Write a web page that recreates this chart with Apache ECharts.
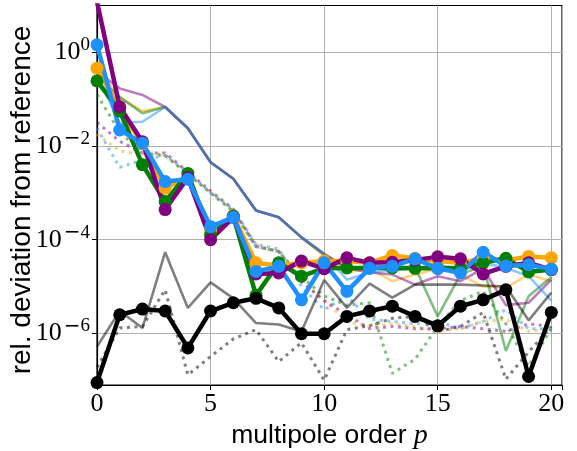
<!DOCTYPE html>
<html><head><meta charset="utf-8">
<script src="https://cdn.jsdelivr.net/npm/echarts@6/dist/echarts.min.js"></script>
<style>html,body{margin:0;padding:0;background:#fff}#c{width:577px;height:451px}</style>
</head><body><div id="c"></div>
<script>
const orders = [0,1,2,3,4,5,6,7,8,9,10,11,12,13,14,15,16,17,18,19,20];
const xTicks = [0,5,10,15,20];
const yTicks = [1e-6,1e-4,1e-2,1];
const yTitle = 'rel. deviation from reference';

// thick lines with markers
const orangeThick = [0.46,0.063,0.0112,1.26e-3,2.2e-3,1.6e-4,3.2e-4,3.2e-5,2.8e-5,3.2e-5,3.5e-5,3.5e-5,3.2e-5,4.6e-5,4.0e-5,3.5e-5,3.2e-5,4.0e-5,3.6e-5,4.4e-5,4.1e-5];
const greenThick  = [0.245,0.056,4.0e-3,6.5e-4,2.6e-3,1.26e-4,3.2e-4,6.5e-6,3.2e-5,1.66e-5,2.45e-5,2.5e-5,2.5e-5,2.5e-5,2.45e-5,2.45e-5,2.45e-5,3.2e-5,4.0e-5,2.05e-5,2.3e-5];
const purpleThick = [12,0.069,0.0123,4.4e-4,2.1e-3,1.0e-4,3.0e-4,1.86e-5,1.95e-5,3.5e-5,2.4e-5,4.1e-5,3.2e-5,3.3e-5,3.7e-5,4.3e-5,3.9e-5,1.86e-5,2.7e-5,3.2e-5,2.3e-5];
const blueThick   = [1.45,0.022,0.0115,1.74e-3,1.95e-3,1.9e-4,3.0e-4,2.1e-5,2.7e-5,5.2e-6,3.2e-5,7.9e-6,2.45e-5,2.7e-5,3.9e-5,2.45e-5,1.95e-5,5.4e-5,2.75e-5,2.9e-5,2.35e-5];
const blackThick  = [8.9e-8,2.5e-6,3.3e-6,3.0e-6,4.9e-7,3.0e-6,4.5e-6,5.6e-6,3.5e-6,9.8e-7,9.8e-7,2.3e-6,3.0e-6,3.8e-6,2.3e-6,1.45e-6,3.8e-6,5.2e-6,8.5e-6,1.2e-7,2.8e-6];

// thin solid (semi-transparent)
const orangeThin = [0.49,0.105,0.056,0.068,0.024,4.5e-3,2.0e-3,4.2e-4,3.0e-4,1.12e-4,4.5e-5,2.0e-5,2.4e-5,1.3e-5,1.8e-5,2.4e-5,1.8e-5,1.0e-5,9.5e-6,1.8e-5,1.3e-5];
const greenThin  = [0.30,0.112,0.050,0.068,0.024,4.5e-3,2.0e-3,4.2e-4,3.0e-4,1.12e-4,4.8e-5,2.5e-5,2.4e-5,2.6e-5,2.6e-5,2.3e-6,1.8e-5,2.8e-5,4.2e-7,6.2e-6,1.6e-5];
const purpleThin = [0.39,0.17,0.123,0.068,0.024,4.5e-3,2.0e-3,4.2e-4,3.0e-4,1.12e-4,5.0e-5,2.5e-5,2.0e-5,1.8e-5,1.1e-5,1.66e-5,1.3e-5,2.4e-5,4.0e-6,4.5e-6,1.4e-5];
const blueThin   = [0.32,0.031,0.033,0.068,0.024,4.5e-3,2.0e-3,4.2e-4,3.0e-4,1.12e-4,5.0e-5,1.4e-5,2.0e-5,2.2e-5,2.5e-5,2.8e-5,2.5e-5,3.2e-5,2.5e-5,1.66e-5,5.0e-6];
const grayThin   = [5.2e-7,3.0e-6,1.3e-6,5.4e-5,3.5e-6,1.23e-5,5.6e-6,1.66e-6,1.55e-6,1.1e-6,1.38e-5,3.5e-6,1.15e-5,5.8e-6,1.1e-5,1.1e-5,1.1e-5,1.05e-5,1.0e-5,1.9e-6,7.4e-6];

// dotted (semi-transparent)
const orangeDot = [0.0178,7.9e-3,6.3e-3,6.3e-3,2.5e-3,1.0e-3,4.0e-4,7.9e-5,5.6e-5,1.4e-5,5.0e-6,1.8e-6,1.4e-6,1.6e-6,1.4e-6,1.1e-6,1.26e-6,1.8e-6,2.0e-6,1.1e-6,1.26e-6];
const greenDot  = [0.126,0.020,7.1e-3,6.3e-3,2.5e-3,1.0e-3,4.0e-4,7.1e-5,5.6e-5,1.6e-5,6.3e-6,4.0e-6,4.5e-6,1.4e-7,2.8e-7,1.4e-6,5.0e-6,7.9e-6,1.6e-6,2.0e-7,1.26e-6];
const purpleDot = [0.032,0.0126,7.1e-3,7.1e-3,2.8e-3,1.1e-3,4.5e-4,7.1e-5,5.6e-5,1.26e-5,5.0e-6,2.5e-6,1.26e-6,1.4e-6,1.26e-6,1.26e-6,1.4e-6,1.26e-6,1.1e-6,1.6e-6,1.4e-6];
const blueDot   = [0.024,3.5e-3,5.0e-3,6.3e-3,2.8e-3,1.0e-3,4.5e-4,7.9e-5,6.3e-5,1.0e-5,3.2e-6,6.3e-6,2.0e-6,1.8e-6,1.6e-6,1.8e-6,1.26e-6,1.8e-6,3.2e-6,1.26e-6,1.26e-6];
const grayDot   = [1.9e-7,1.3e-6,1.4e-6,8.5e-6,1.3e-7,3.2e-7,7.6e-7,1.2e-6,2.5e-7,6.3e-7,1.0e-7,1.2e-6,1.45e-6,2.1e-6,2.3e-6,1.1e-6,1.4e-6,2.8e-6,1.05e-7,4.0e-7,1.4e-6];

const COL = {orange:'#FFA500', green:'#008000', purple:'#800080', blue:'#1E90FF', black:'#000000'};

function pairs(arr){ return orders.map((p,i)=>[p, arr[i]]); }
function thin(arr,color){ return {type:'line', data:pairs(arr), showSymbol:false, symbol:'none', lineStyle:{color, width:2.6, opacity:0.5}, z:2}; }
function dot(arr,color){ return {type:'line', data:pairs(arr), showSymbol:false, symbol:'none', lineStyle:{color, width:3, opacity:0.5, type:[3,4.5], cap:'butt'}, z:2}; }
function thick(arr,color){ return {type:'line', data:pairs(arr), symbol:'circle', symbolSize:13, showSymbol:true, itemStyle:{color}, lineStyle:{color, width:4.5}, z:3}; }

const series = [
  dot(orangeDot,COL.orange), dot(greenDot,COL.green), dot(purpleDot,COL.purple), dot(blueDot,COL.blue), dot(grayDot,COL.black),
  thin(orangeThin,COL.orange), thin(greenThin,COL.green), thin(purpleThin,COL.purple), thin(blueThin,COL.blue), thin(grayThin,COL.black),
  thick(orangeThick,COL.orange), thick(greenThick,COL.green), thick(purpleThick,COL.purple), thick(blueThick,COL.blue), thick(blackThick,COL.black)
];
series.forEach(s=>{ s.animation=false; s.clip=true; });

const serif = 'Liberation Serif';
const sans = 'Liberation Sans';

const chart = echarts.init(document.getElementById('c'), null, {renderer:'canvas'});
chart.setOption({
  animation:false,
  grid:{left:97, right:15, top:5.5, bottom:66, containLabel:false, outerBoundsMode:'none',
        show:true, borderColor:'#000', borderWidth:1.2, backgroundColor:'transparent'},
  graphic:[{
    type:'text', x:22, y:200, rotation:Math.PI/2, silent:true,
    style:{text:yTitle, fontFamily:sans, fontSize:28, fill:'#000', align:'center', verticalAlign:'middle'}
  }],
  xAxis:{
    type:'value', min:0, max:20.47, interval:5,
    name:'{t|multipole order }{i|p}', nameLocation:'middle', nameGap:32,
    nameTextStyle:{rich:{t:{fontFamily:sans, fontSize:26.5, color:'#000'}, i:{fontFamily:serif, fontStyle:'italic', fontSize:28, color:'#000'}}},
    axisLine:{show:true, lineStyle:{color:'#000', width:1.2}},
    axisTick:{show:true, inside:false, length:5, lineStyle:{color:'#000'}},
    axisLabel:{fontFamily:serif, fontSize:26, color:'#000', margin:6,
      formatter:function(v){ return xTicks.indexOf(v)>=0 ? String(v) : ''; }},
    splitLine:{show:true, lineStyle:{color:'#b0b0b0', width:1}}
  },
  yAxis:{
    type:'log', logBase:10, min:7.9e-8, max:10,
    axisLine:{show:true, lineStyle:{color:'#000', width:1.2}},
    axisTick:{show:true, inside:false, length:5, lineStyle:{color:'#000'}, customValues:yTicks},
    axisLabel:{color:'#000', margin:7, align:'right', customValues:yTicks,
      formatter:function(v){
        const e = Math.round(Math.log10(v));
        return e===0 ? '{b|10}{s|0}' : '{b|10}{m|\u2212}{s|' + (-e) + '}';
      },
      rich:{
        b:{fontFamily:serif, fontSize:26, color:'#000'},
        m:{fontFamily:'DejaVu Sans', fontSize:20, color:'#000', padding:[0,0,14,2]},
        s:{fontFamily:serif, fontSize:19, color:'#000', padding:[0,0,14,0]}
      }
    },
    splitLine:{show:true, lineStyle:{color:'#b0b0b0', width:1}}
  },
  series
});
</script></body></html>
